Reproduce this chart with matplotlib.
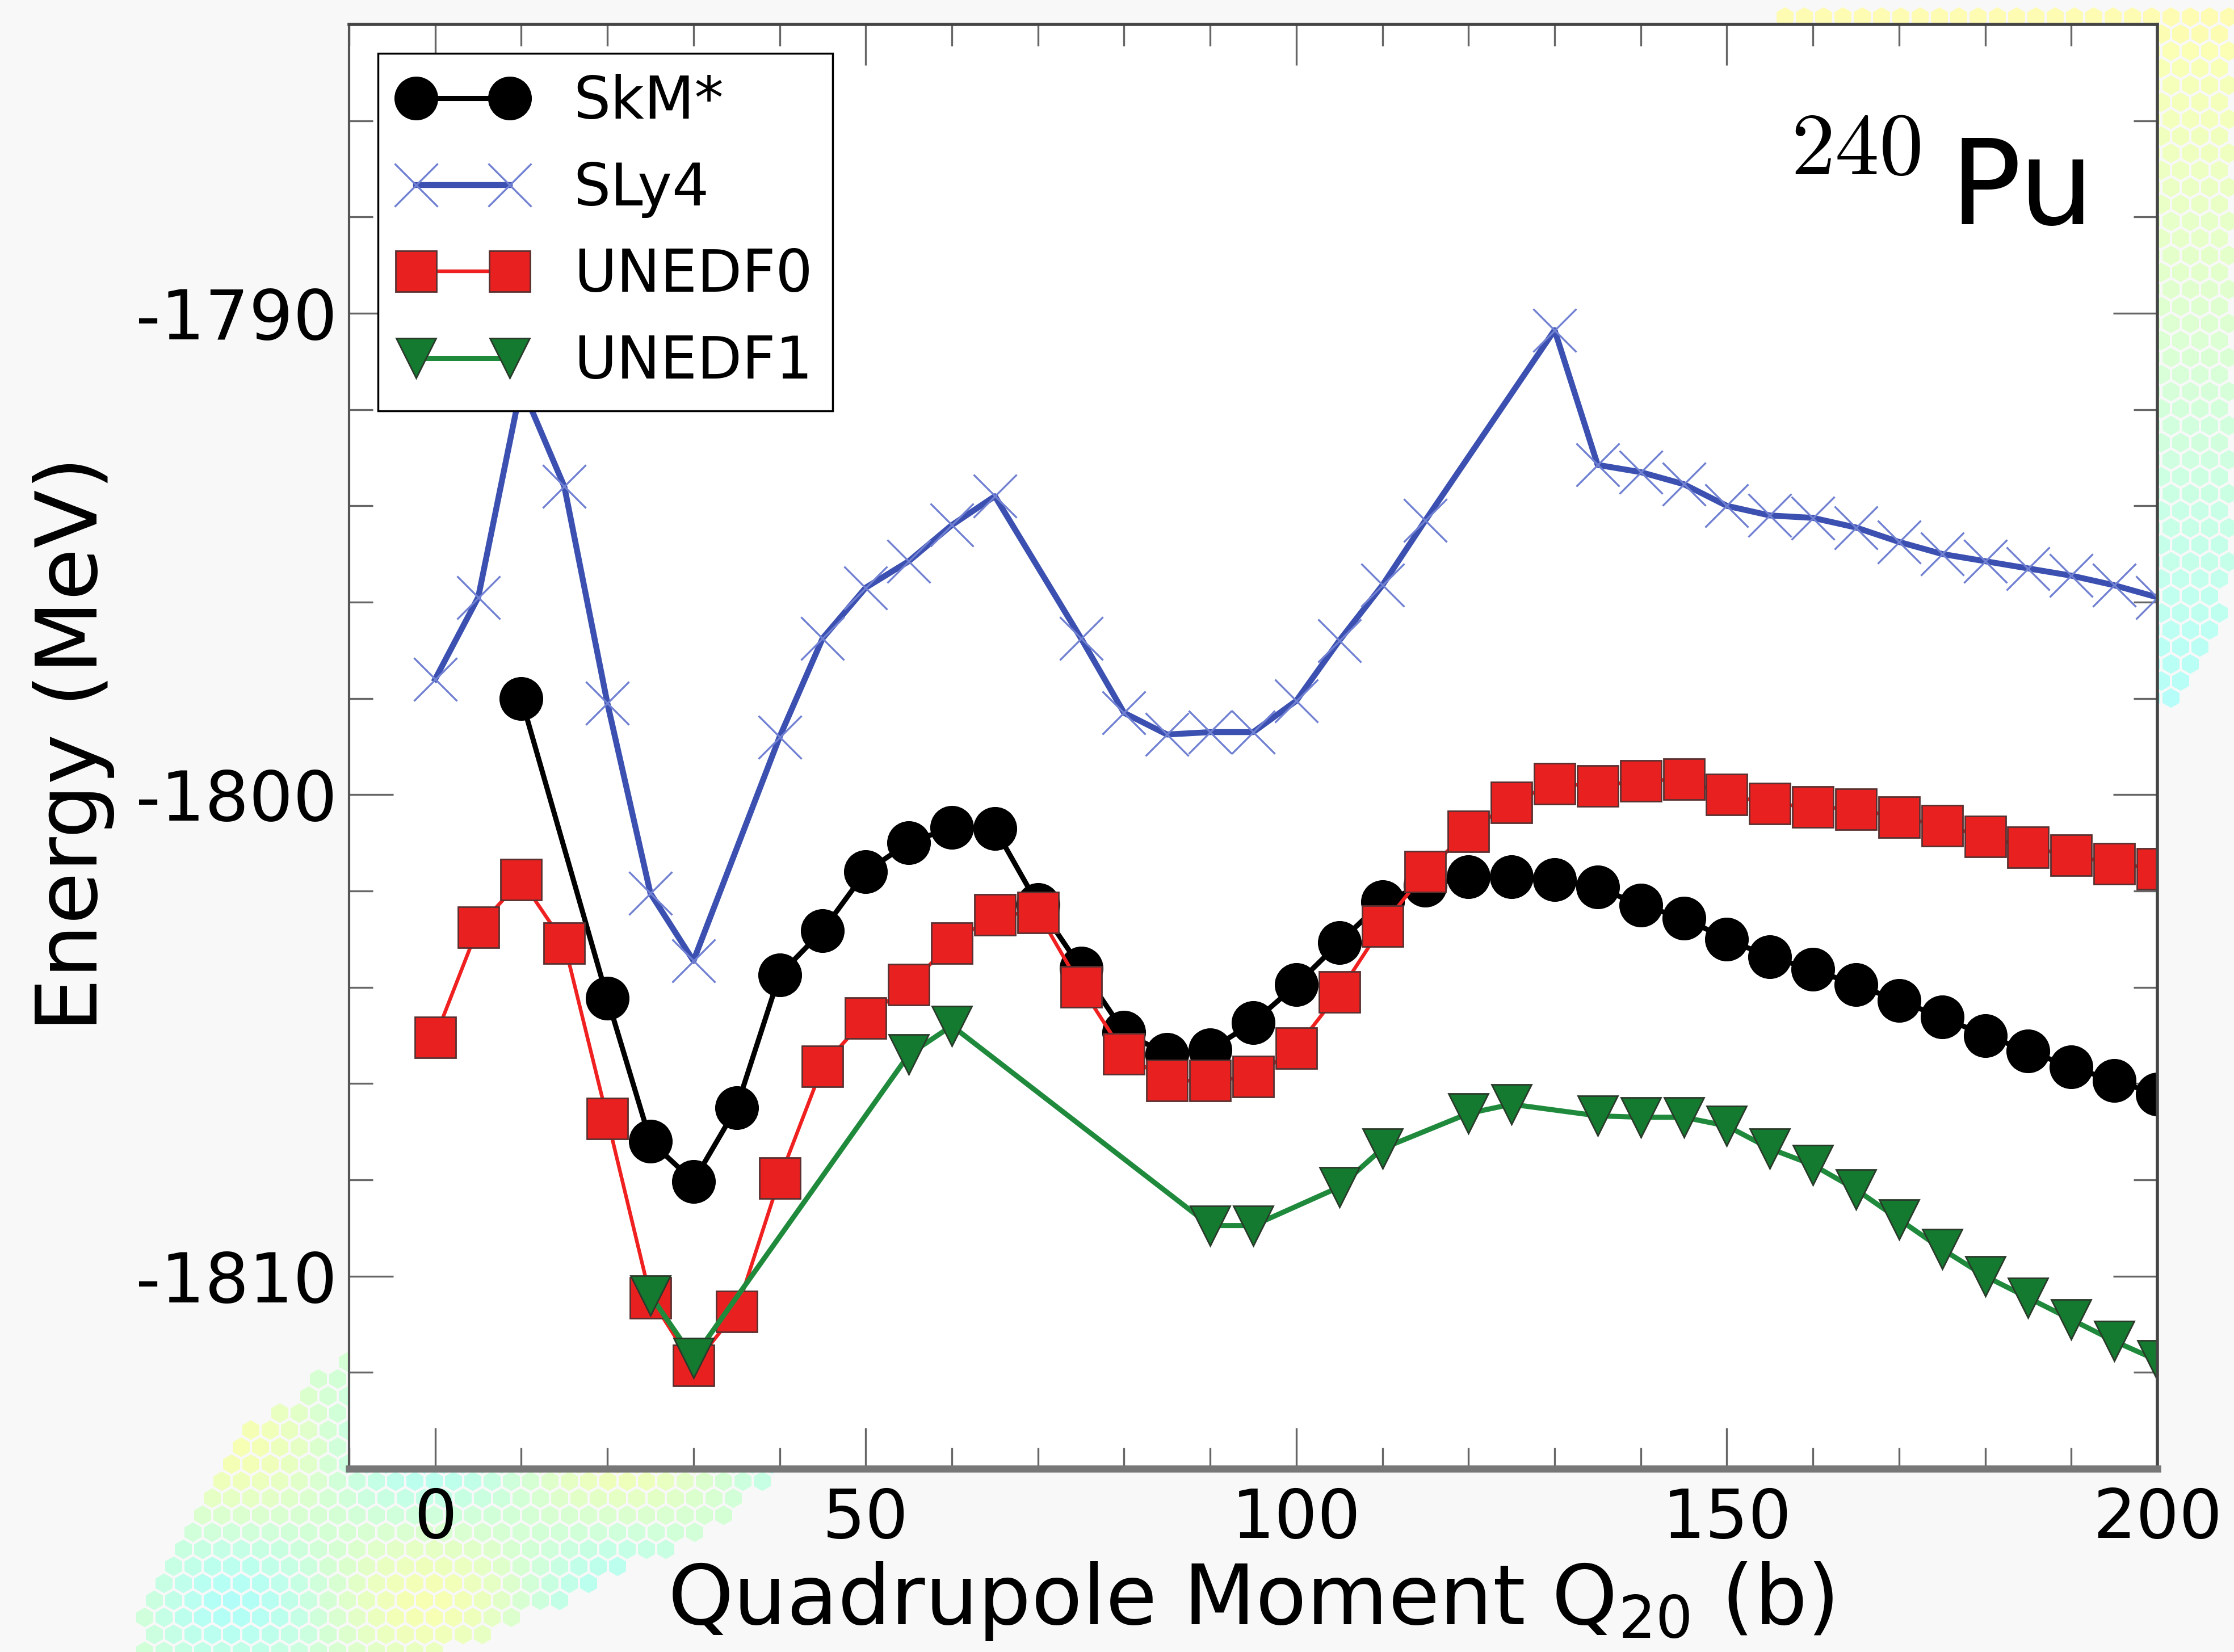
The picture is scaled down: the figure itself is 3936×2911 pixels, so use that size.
import numpy as np
import matplotlib
matplotlib.use('Agg')
import matplotlib.pyplot as plt
from matplotlib.path import Path
from matplotlib.ticker import MultipleLocator

plt.rcParams['font.family'] = ['DejaVu Sans']
plt.rcParams['axes.unicode_minus'] = False

# ---------------- data ----------------
q_skm = [10, 20, 25, 30, 35, 40, 45, 50, 55, 60, 65, 70, 75, 80, 85, 90, 95, 100,
         105, 110, 115, 120, 125, 130, 135, 140, 145, 150, 155, 160, 165, 170, 175,
         180, 185, 190, 195, 200]
e_skm = [-1798.0, -1804.23, -1807.2, -1808.03, -1806.5, -1803.74, -1802.82, -1801.6,
         -1801.0, -1800.68, -1800.7, -1802.28, -1803.6, -1804.93, -1805.4, -1805.3,
         -1804.73, -1803.95, -1803.07, -1802.22, -1801.88, -1801.71, -1801.71, -1801.77,
         -1801.92, -1802.3, -1802.56, -1803.0, -1803.37, -1803.63, -1803.95, -1804.28,
         -1804.62, -1805.0, -1805.32, -1805.66, -1805.94, -1806.22]

q_sly4 = [0, 5, 10, 15, 20, 25, 30, 40, 45, 50, 55, 60, 65, 75, 80, 85, 90, 95, 100,
          105, 110, 115, 130, 135, 140, 145, 150, 155, 160, 165, 170, 175, 180, 185,
          190, 195, 200]
e_sly4 = [-1797.6, -1795.9, -1791.5, -1793.6, -1798.1, -1802.05, -1803.45, -1798.8,
          -1796.75, -1795.7, -1795.15, -1794.4, -1793.8, -1796.75, -1798.3, -1798.75,
          -1798.7, -1798.7, -1798.05, -1796.8, -1795.65, -1794.3, -1790.35, -1793.15,
          -1793.3, -1793.55, -1794.0, -1794.2, -1794.25, -1794.45, -1794.75, -1795.0,
          -1795.15, -1795.3, -1795.45, -1795.65, -1795.9]

q_un0 = [0, 5, 10, 15, 20, 25, 30, 35, 40, 45, 50, 55, 60, 65, 70, 75, 80, 85, 90, 95,
         100, 105, 110, 115, 120, 125, 130, 135, 140, 145, 150, 155, 160, 165, 170,
         175, 180, 185, 190, 195, 200]
e_un0 = [-1805.04, -1802.75, -1801.77, -1803.09, -1806.73, -1810.45, -1811.86, -1810.73,
         -1807.97, -1805.64, -1804.64, -1803.95, -1803.09, -1802.5, -1802.45, -1803.99,
         -1805.38, -1805.94, -1805.94, -1805.86, -1805.26, -1804.1, -1802.73, -1801.6,
         -1800.76, -1800.16, -1799.77, -1799.82, -1799.71, -1799.68, -1800.0, -1800.19,
         -1800.25, -1800.3, -1800.47, -1800.64, -1800.87, -1801.09, -1801.26, -1801.43,
         -1801.54]

q_un1 = [25, 30, 55, 60, 90, 95, 105, 110, 120, 125, 135, 140, 145, 150, 155, 160,
         165, 170, 175, 180, 185, 190, 195, 200]
e_un1 = [-1810.4, -1811.7, -1805.4, -1804.8, -1808.95, -1808.95, -1808.15, -1807.35,
         -1806.62, -1806.43, -1806.67, -1806.7, -1806.7, -1806.88, -1807.35, -1807.69,
         -1808.2, -1808.82, -1809.44, -1810.0, -1810.45, -1810.9, -1811.35, -1811.75]

x_ticks = [0, 50, 100, 150, 200]
y_ticks = [-1810, -1800, -1790]

# ---------------- figure ----------------
W, H = 3937, 2911
fig = plt.figure(figsize=(W / 100, H / 100), dpi=100, facecolor='#f8f8f8')

# decorative pastel background patches
bg = fig.add_axes([0, 0, 1, 1], zorder=0)
bg.set_xlim(0, W)
bg.set_ylim(H, 0)
bg.axis('off')
step = 34
gx, gy = np.meshgrid(np.arange(0, W + step, step), np.arange(0, H + step, 30))
gx = gx + (np.arange(gx.shape[0])[:, None] % 2) * step / 2
pts = np.column_stack([gx.ravel(), gy.ravel()])
tr_poly = Path([(3136, 0), (3937, 0), (3937, 1000), (3890, 1150), (3850, 1250),
                (3700, 1250), (3136, 60)])
bl_poly = Path([(615, 2370), (560, 2420), (383, 2563), (316, 2700), (230, 2911),
                (794, 2911), (957, 2835), (1196, 2721), (1388, 2600), (1400, 2500),
                (615, 2500)])
jet = plt.get_cmap('jet')
white = np.array([1, 1, 1, 1.0])
m1 = tr_poly.contains_points(pts)
p1 = pts[m1]
v1 = 0.66 - 0.30 * (p1[:, 1] / 1250.0)
c1 = 0.30 * jet(v1) + 0.70 * white
m2 = bl_poly.contains_points(pts)
p2 = pts[m2]
v2 = 0.5 + 0.13 * np.sin(p2[:, 0] / 110.0 + 1.0) * np.cos(p2[:, 1] / 90.0)
c2 = 0.32 * jet(v2) + 0.68 * white
bg.scatter(p1[:, 0], p1[:, 1], s=620, c=c1, marker='h', linewidths=0)
bg.scatter(p2[:, 0], p2[:, 1], s=620, c=c2, marker='h', linewidths=0)

# main axes
L, R, T, B = 615, 3801, 43, 2588
ax = fig.add_axes([L / W, 1 - B / H, (R - L) / W, (B - T) / H], zorder=1)
ax.set_facecolor('white')

ax.plot(q_skm, e_skm, color='black', lw=6.5, marker='o', ms=54,
        mfc='black', mec='black', mew=1.5, label='SkM*')
ax.plot(q_sly4, e_sly4, color='#3b50b0', lw=7.5, marker='x', ms=55,
        mec='#7080d2', mew=2.4, label='SLy4')
ax.plot(q_un0, e_un0, color='#f02020', lw=4.6, marker='s', ms=52,
        mfc='#e82020', mec='#5a3030', mew=2.0, label='UNEDF0')
ax.plot(q_un1, e_un1, color='#1f8a3c', lw=6.5, marker='v', ms=50,
        mfc='#147a30', mec='#2a3a2a', mew=2.0, label='UNEDF1')

ax.set_xlim(-10, 200)
ax.set_ylim(-1814, -1784)
ax.set_xticks(x_ticks)
ax.set_yticks(y_ticks)
ax.xaxis.set_minor_locator(MultipleLocator(10))
ax.yaxis.set_minor_locator(MultipleLocator(2))
ax.tick_params(axis='both', which='both', direction='in', top=True, right=True,
               colors='#666666', labelcolor='black', width=2.4)
ax.tick_params(axis='x', which='major', length=52, pad=22, labelsize=86)
ax.tick_params(axis='x', which='minor', length=27)
ax.tick_params(axis='y', which='major', length=56, pad=15, labelsize=88)
ax.tick_params(axis='y', which='minor', length=30)

for side, lw, col in [('left', 3.0, '#555555'), ('right', 4.0, '#444444'),
                      ('top', 4.0, '#444444'), ('bottom', 9.0, '#777777')]:
    ax.spines[side].set_linewidth(lw)
    ax.spines[side].set_color(col)

leg = ax.legend(loc='upper left', fontsize=74, numpoints=2, handlelength=2.2,
                handletextpad=0.8, borderpad=0.35, labelspacing=0.5,
                borderaxespad=0.5, fancybox=False, framealpha=1.0, edgecolor='black')
leg.get_frame().set_linewidth(2.5)
leg.set_zorder(10)

# nucleus label
fig.text(3155 / W, 1 - 307 / H, r'$\mathrm{240}$', fontsize=112, math_fontfamily='cm',
         ha='left', va='baseline', zorder=3)
fig.text(3436 / W, 1 - 395 / H, 'Pu', fontsize=150, ha='left', va='baseline', zorder=3)

# axis labels
fig.text(2203 / W, 1 - 2862 / H, r'Quadrupole Moment Q$_{20}$ (b)', fontsize=106,
         ha='center', va='baseline')
fig.text(171 / W, 1 - 1311 / H, 'Energy (MeV)', fontsize=108, rotation=90,
         rotation_mode='anchor', ha='center', va='baseline')

fig.savefig('out.png', dpi=100, facecolor=fig.get_facecolor())
